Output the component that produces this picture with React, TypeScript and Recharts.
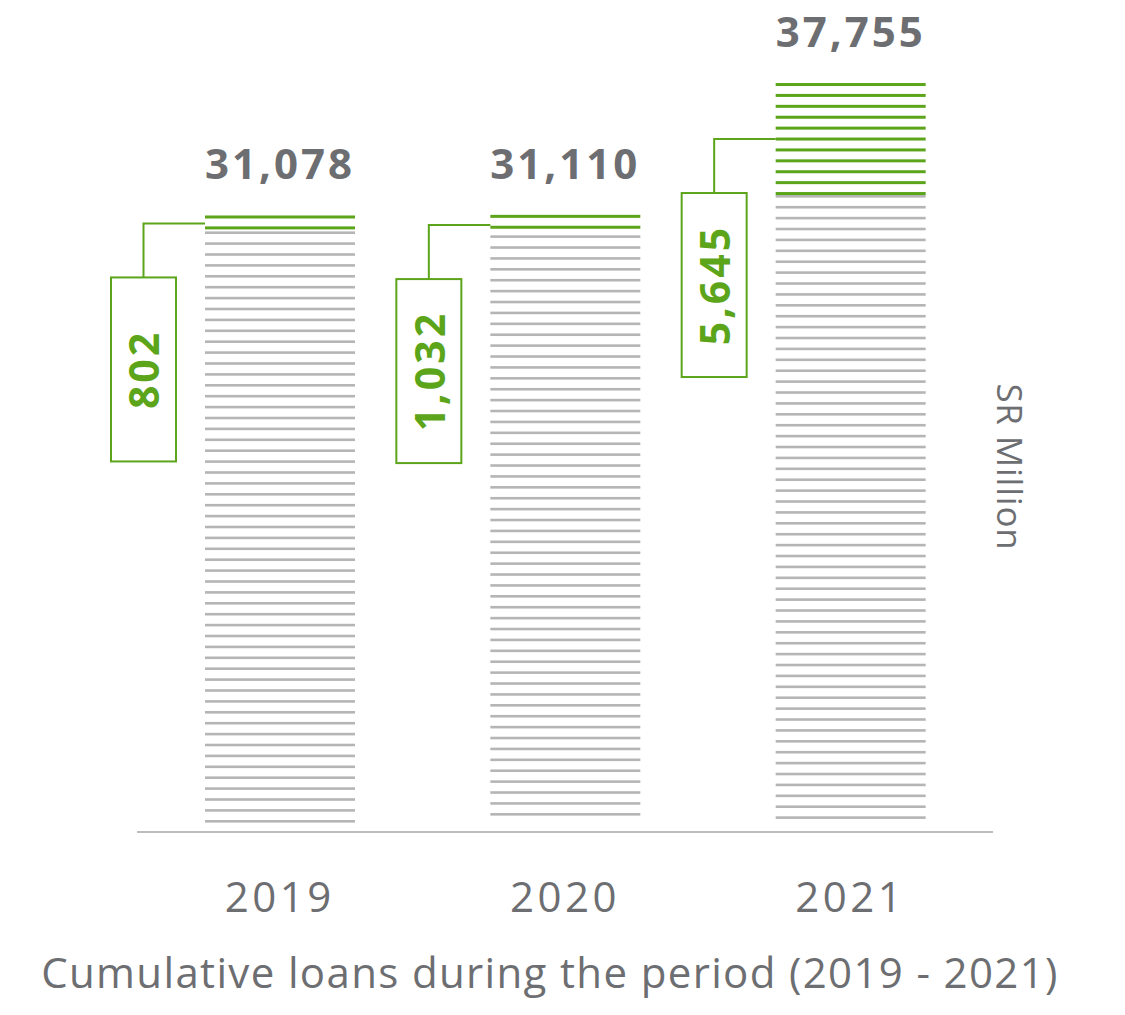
import { BarChart, Bar, XAxis, YAxis, LabelList } from 'recharts'

const years = ['2019', '2020', '2021']
const totalLoans = [31078, 31110, 37755]
const newLoans = [802, 1032, 5645]

const GREEN = '#5ca51b'
const GREY_LINE = '#b5b5b5'
const TEXT = '#6d6e71'
const FONT = '"Open Sans", Roboto, sans-serif'
const PITCH = 10.9

const data = years.map((year, i) => ({
  year,
  base: totalLoans[i] - newLoans[i],
  added: newLoans[i],
  total: totalLoans[i],
}))

const fmt = (v: number) => v.toLocaleString('en-US')

// horizontal stripes drawn from the top of each segment downwards
function Stripes(props: any) {
  const { x, y, width, height, color, thick, bottomGap } = props
  if (!height || height <= 0) return null
  const lines = []
  for (let k = 0; y + k * PITCH <= y + height - bottomGap; k++) {
    lines.push(
      <rect key={k} x={x} y={y + k * PITCH} width={width} height={thick} fill={color} />
    )
  }
  return <g>{lines}</g>
}

function Callout(props: any) {
  const { x, y, height, value } = props
  const midY = y + height / 2
  const boxW = 65
  const boxH = 184
  const boxX = x - 94
  const boxY = midY + 54
  const cx = boxX + boxW / 2
  return (
    <g>
      <polyline
        points={`${cx},${boxY} ${cx},${midY} ${x},${midY}`}
        fill="none"
        stroke={GREEN}
        strokeWidth={2}
      />
      <rect x={boxX} y={boxY} width={boxW} height={boxH} fill="#fff" stroke={GREEN} strokeWidth={2} />
      <text
        x={cx}
        y={boxY + boxH / 2}
        transform={`rotate(-90 ${cx} ${boxY + boxH / 2})`}
        textAnchor="middle"
        dominantBaseline="central"
        fill={GREEN}
        fontFamily={FONT}
        fontWeight={700}
        fontSize={41}
        letterSpacing={3}
      >
        {fmt(value)}
      </text>
    </g>
  )
}

function TotalLabel(props: any) {
  const { x, y, width, value } = props
  return (
    <text
      x={x + width / 2}
      y={y - 36}
      textAnchor="middle"
      fill={TEXT}
      fontFamily={FONT}
      fontWeight={700}
      fontSize={42}
      letterSpacing={3}
    >
      {fmt(value)}
    </text>
  )
}

function YearTick(props: any) {
  const { x, payload } = props
  return (
    <text
      x={x}
      y={912}
      textAnchor="middle"
      fill={TEXT}
      fontFamily={FONT}
      fontSize={42}
      letterSpacing={3.5}
    >
      {payload.value}
    </text>
  )
}

export default function App() {
  return (
    <div style={{ position: 'absolute', left: 0, top: 0, width: 1125, height: 1015, background: '#fff' }}>
      <BarChart
        width={1125}
        height={1015}
        data={data}
        margin={{ top: 38.5, right: 132, bottom: 113, left: 137 }}
        barSize={150}
      >
        <XAxis
          dataKey="year"
          height={70}
          tickLine={false}
          axisLine={{ stroke: '#bdbdbd', strokeWidth: 2 }}
          tick={<YearTick />}
          interval={0}
        />
        <YAxis hide domain={[0, 40000]} />
        <Bar
          dataKey="base"
          stackId="a"
          isAnimationActive={false}
          shape={<Stripes color={GREY_LINE} thick={2.6} bottomGap={9} />}
        />
        <Bar
          dataKey="added"
          stackId="a"
          isAnimationActive={false}
          shape={<Stripes color={GREEN} thick={3} bottomGap={2} />}
        >
          <LabelList dataKey="added" content={<Callout />} />
          <LabelList dataKey="total" content={<TotalLabel />} />
        </Bar>
      </BarChart>
      <svg
        width={1125}
        height={1015}
        style={{ position: 'absolute', left: 0, top: 0, pointerEvents: 'none' }}
      >
        <text
          x={1010}
          y={467}
          transform="rotate(90 1010 467)"
          textAnchor="middle"
          dominantBaseline="central"
          fill={TEXT}
          fontFamily={FONT}
          fontSize={35}
          letterSpacing={0.8}
        >
          SR Million
        </text>
        <text
          x={550}
          y={988}
          textAnchor="middle"
          fill={TEXT}
          fontFamily={FONT}
          fontSize={42}
          letterSpacing={1.35}
        >
          Cumulative loans during the period (2019 - 2021)
        </text>
      </svg>
    </div>
  )
}
